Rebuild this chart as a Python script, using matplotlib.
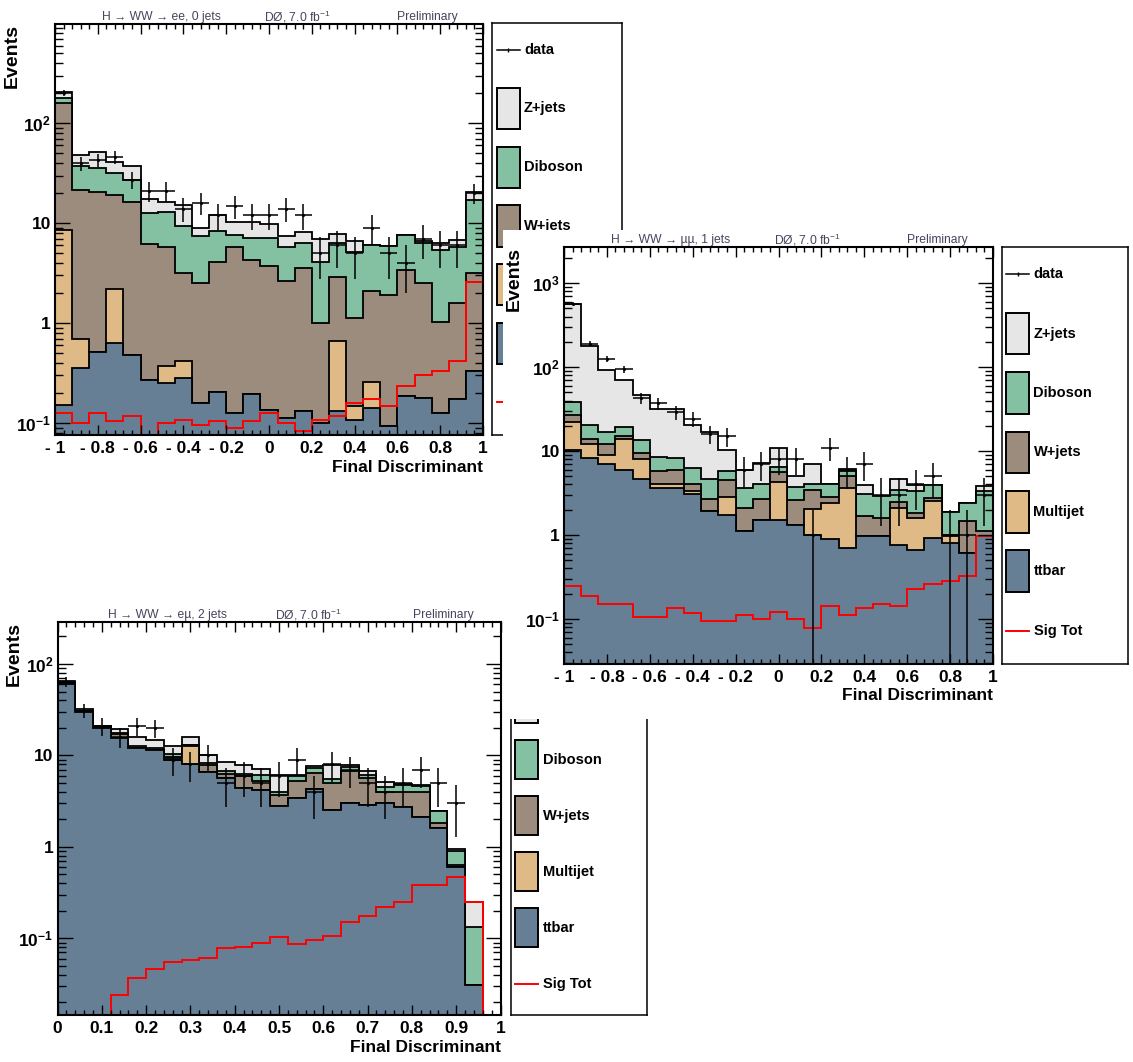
#!/usr/bin/env python3
"""
H -> WW final discriminant, three channels (ee 0j, mumu 1j, emu 2j), stacked backgrounds
"""
import numpy as np
import matplotlib
matplotlib.use("Agg")
import matplotlib.pyplot as plt
from matplotlib.patches import Rectangle
from matplotlib.ticker import FixedLocator, FixedFormatter, LogLocator, NullFormatter, MultipleLocator

plt.rcParams["font.family"] = ["Liberation Sans", "DejaVu Sans"]
plt.rcParams["font.weight"] = "bold"
plt.rcParams["mathtext.default"] = "regular"

FIG_W, FIG_H = 1133, 1062

# ─── colours ────────────────────────────────────────────
C_TTBAR    = "#667f95"
C_MULTIJET = "#dfba86"
C_WJETS    = "#9c8c7d"
C_DIBOSON  = "#83c1a2"
C_ZJETS    = "#e6e6e6"
C_SIG      = "#ff0000"
C_TITLE    = "#45455e"
STACK_COLOURS = [C_TTBAR, C_MULTIJET, C_WJETS, C_DIBOSON, C_ZJETS]   # bottom -> top

# ─── ee, 0 jets ─────────────────────────────────────────
ee_edges    = np.linspace(-1, 1, 26)
ee_ttbar    = [0.15, 0.355, 0.52, 0.63, 0.48, 0.27, 0.25, 0.28, 0.158, 0.207, 0.126, 0.195, 0.136,
               0.112, 0.133, 0.10, 0.131, 0.108, 0.141, 0.093, 0.188, 0.18, 0.126, 0.174, 0.33]
ee_multijet = [8.45, 0.335, 0, 1.56, 0, 0, 0.12, 0.14, 0, 0, 0, 0, 0,
               0, 0, 0, 0.525, 0.041, 0.119, 0, 0, 0, 0, 0, 0]
ee_wjets    = [152.4, 20.8, 19.9, 17.0, 15.7, 5.93, 5.43, 2.78, 2.34, 3.89, 5.67, 4.1, 3.56,
               2.54, 3.47, 0.9, 2.24, 0.99, 1.86, 1.81, 3.21, 2.32, 0.91, 1.41, 2.87]
ee_diboson  = [17.0, 15.9, 15.1, 12.4, 10.9, 6.4, 7.1, 6.1, 5.0, 4.2, 1.8, 2.8, 3.4,
               3.15, 2.7, 3.1, 3.4, 3.96, 3.98, 4.0, 4.2, 3.8, 4.36, 4.22, 13.7]
ee_zjets    = [26.0, 10.6, 16.5, 9.4, 9.9, 4.8, 3.3, 6.0, 1.4, 3.8, 2.6, 3.3, 2.7,
               1.6, 1.8, 2.8, 1.5, 1.6, 0, 0, 0, 0.3, 0.9, 1.0, 3.5]
ee_signal   = [0.126, 0.10, 0.126, 0.106, 0.117, 0.07, 0.10, 0.108, 0.096, 0.106, 0.089, 0.104, 0.126,
               0.10, 0.083, 0.108, 0.117, 0.158, 0.174, 0.149, 0.233, 0.304, 0.329, 0.414, 2.61]
ee_data     = [200, 40, 43, 46, 27, 21, 21, 14, 16, 12, 15, 12, 12,
               14, 12, 5, 6, 5, 9, 5, 4, 7, 6, 6, 20]

# ─── mumu, 1 jets ───────────────────────────────────────
mm_edges    = np.linspace(-1, 1, 26)
mm_ttbar    = [10.3, 8.3, 6.95, 5.9, 4.7, 3.6, 3.6, 3.1, 1.94, 1.74, 1.1, 1.49, 1.51,
               1.33, 1.0, 0.9, 0.70, 0.96, 0.96, 0.76, 0.67, 0.92, 0.8, 0.61, 0.96]
mm_multijet = [11.6, 3.7, 2.05, 8.0, 3.3, 0.5, 0.5, 0.2, 0, 1.12, 0, 0, 2.79,
               0, 1.05, 1.49, 2.9, 0, 0, 1.32, 0.94, 1.62, 0.16, 0, 0]
mm_wjets    = [4.9, 2.1, 3.0, 1.2, 1.6, 1.7, 1.85, 0.8, 0.73, 1.64, 0.98, 1.18, 1.3,
               1.3, 1.35, 0.48, 1.4, 0.7, 0.62, 0.42, 0.21, 0.22, 0.04, 0.84, 0.14]
mm_diboson  = [11.7, 6.3, 5.0, 4.4, 3.9, 2.8, 2.35, 2.1, 1.93, 1.3, 1.52, 1.33, 0.9,
               1.07, 0.7, 1.23, 0.8, 1.39, 1.34, 0.94, 1.53, 1.14, 0.9, 0.98, 2.25]
mm_zjets    = [530, 157, 76, 51.5, 33.5, 22.9, 23.2, 14.2, 12.1, 4.5, 2.3, 3.3, 4.3,
               1.3, 3.0, 0, 0.3, 0.9, 0, 1.16, 0.55, 0, 0, 0, 0.52]
mm_signal   = [0.249, 0.186, 0.151, 0.151, 0.105, 0.105, 0.133, 0.118, 0.094, 0.094, 0.111, 0.100, 0.12,
               0.100, 0.078, 0.141, 0.112, 0.133, 0.152, 0.141, 0.227, 0.26, 0.28, 0.321, 0.98]
mm_data     = [570, 190, 126, 94, 43, 37, 29, 24, 16, 15, 6, 7, 8,
               8, 1, 11, 6, 7, 3, 3, 4, 5, 1, 1, 3]

# ─── emu, 2 jets ────────────────────────────────────────
em_edges    = np.linspace(0, 1, 26)
em_ttbar    = [61, 29.8, 20, 15.5, 12.0, 11.5, 9.0, 8.0, 6.6, 5.65, 4.39, 4.2, 2.77,
               3.41, 4.27, 2.55, 3.0, 2.88, 3.0, 2.76, 2.14, 1.6, 0.6, 0.031, 0]
em_multijet = [0, 0, 0, 0, 0, 0, 0.3, 4.6, 0, 0, 0, 0, 0,
               0, 0, 0, 0, 0, 0, 0, 0, 0, 0, 0, 0]
em_wjets    = [0.5, 0.7, 0.8, 1.8, 0, 0, 0.2, 0.3, 1.2, 0.65, 1.5, 1.1, 0.94,
               1.78, 2.23, 2.45, 3.8, 2.77, 1.03, 1.27, 1.89, 0.22, 0.04, 0, 0]
em_diboson  = [0.5, 0.5, 0.2, 0.3, 0.8, 0.7, 0.9, 0, 0.44, 0.38, 0.41, 0.74, 0.32,
               0.79, 0.76, 0.55, 0.6, 0.49, 0.47, 0.67, 0.55, 0.62, 0.26, 0.103, 0]
em_zjets    = [3.0, 1.0, 0.1, 1.8, 3.1, 2.7, 2.2, 3.2, 1.76, 1.72, 1.6, 1.11, 2.11,
               0.16, 0.31, 2.35, 0.4, 0.65, 0.56, 0.2, 0.13, 0, 0.04, 0.118, 0]
em_signal   = [0, 0, 0, 0.024, 0.0365, 0.0458, 0.0556, 0.058, 0.0604, 0.0778, 0.0811, 0.0881, 0.104,
               0.0867, 0.096, 0.106, 0.152, 0.177, 0.222, 0.252, 0.384, 0.384, 0.473, 0.252, 0]
em_data     = [64, 31, 21, 16, 21, 20, 9, 8, 10, 5, 6, 5, 6,
               9, 4, 8, 7, 5, 4, 5, 7, 5, 3, 0, 0]

# axis labels
SYM_TICKS  = [-1, -0.8, -0.6, -0.4, -0.2, 0, 0.2, 0.4, 0.6, 0.8, 1]
SYM_LABELS = ["- 1", "- 0.8", "- 0.6", "- 0.4", "- 0.2", "0", "0.2", "0.4", "0.6", "0.8", "1"]
POS_TICKS  = [0, 0.1, 0.2, 0.3, 0.4, 0.5, 0.6, 0.7, 0.8, 0.9, 1]
POS_LABELS = ["0", "0.1", "0.2", "0.3", "0.4", "0.5", "0.6", "0.7", "0.8", "0.9", "1"]
LEGEND_ENTRIES = [("data", "data", "black"), ("Z+jets", "box", C_ZJETS), ("Diboson", "box", C_DIBOSON),
                  ("W+jets", "box", C_WJETS), ("Multijet", "box", C_MULTIJET), ("ttbar", "box", C_TTBAR),
                  ("Sig Tot", "line", C_SIG)]

fig = plt.figure(figsize=(FIG_W / 100, FIG_H / 100), dpi=100)


def px_rect(left, top, right, bottom):
    return [left / FIG_W, 1 - bottom / FIG_H, (right - left) / FIG_W, (bottom - top) / FIG_H]


def to_fig(x, y):
    return x / FIG_W, 1 - y / FIG_H


def draw_panel(box, edges, stack, signal, data, ylim, xticks, xlabels, xminor,
               yticks, ylabels, title, ylab_dx=43, z=1):
    left, top, right, bottom = box
    ax = fig.add_axes(px_rect(*box), zorder=z)
    ax.set_yscale("log")
    floor = ylim[0] * 1e-3

    # stacked backgrounds, drawn as cumulative histograms from the top down
    levels = np.cumsum(np.array(stack, dtype=float), axis=0)
    for level, colour in reversed(list(zip(levels, STACK_COLOURS))):
        ax.stairs(np.maximum(level, floor), edges, baseline=floor, fill=True,
                  facecolor=colour, edgecolor="black", linewidth=1.3)
    ax.stairs(np.maximum(np.array(signal, float), floor), edges, baseline=None,
              color=C_SIG, linewidth=1.4)

    # data points with sqrt(N) errors
    d = np.array(data, dtype=float)
    ok = d > 0
    centres = 0.5 * (edges[1:] + edges[:-1])
    err = np.sqrt(d)
    ax.vlines(centres[ok], np.maximum(d[ok] - err[ok], floor), d[ok] + err[ok], colors="black", lw=1.1)
    ax.hlines(d[ok], edges[:-1][ok], edges[1:][ok], colors="black", lw=1.1)
    ax.plot(centres[ok], d[ok], "k.", ms=2.5)

    ax.set_xlim(edges[0], edges[-1])
    ax.set_ylim(*ylim)
    ax.xaxis.set_major_locator(FixedLocator(xticks))
    ax.xaxis.set_major_formatter(FixedFormatter(xlabels))
    ax.xaxis.set_minor_locator(MultipleLocator(xminor))
    ax.yaxis.set_major_locator(FixedLocator(yticks))
    ax.yaxis.set_major_formatter(FixedFormatter(ylabels))
    ax.yaxis.set_minor_locator(LogLocator(base=10, subs=np.arange(2, 10), numticks=30))
    ax.yaxis.set_minor_formatter(NullFormatter())
    ax.tick_params(which="both", direction="in", top=True, right=True, width=1.0, labelsize=12.5)
    ax.tick_params(axis="x", which="major", length=7, pad=4)
    ax.tick_params(axis="x", which="minor", length=3.5)
    ax.tick_params(axis="y", which="major", length=11, pad=3)
    ax.tick_params(axis="y", which="minor", length=5.5)
    for sp in ax.spines.values():
        sp.set_linewidth(1.5)

    w = right - left
    for frac, s in zip((0.248, 0.567, 0.871), title):
        x, y = to_fig(left + frac * w, top - 7)
        ax.text(x, y, s, transform=fig.transFigure, ha="center", va="center",
                fontsize=8.7, fontweight="normal", color=C_TITLE)
    x, y = to_fig(right, bottom + 32)
    ax.text(x, y, "Final Discriminant", transform=fig.transFigure, ha="right", va="center", fontsize=12.5)
    x, y = to_fig(left - ylab_dx, top)
    ax.text(x, y, "Events", transform=fig.transFigure, rotation=90, ha="center", va="top", fontsize=14)
    return ax


def draw_legend(box, z=1, n_labels=None):
    """ROOT-style legend box; n_labels limits how many entry names get written."""
    left, top, right, bottom = box
    lax = fig.add_axes(px_rect(*box), zorder=z)
    w, h = right - left, bottom - top
    lax.set_xlim(0, w)
    lax.set_ylim(h, 0)
    lax.set_xticks([])
    lax.set_yticks([])
    for sp in lax.spines.values():
        sp.set_linewidth(1.1)
    for i, (label, kind, colour) in enumerate(LEGEND_ENTRIES):
        yc = 0.065 * h + i * 0.1425 * h
        if kind == "box":
            lax.add_patch(Rectangle((4.5, yc - 0.05 * h), 23, 0.1 * h, facecolor=colour,
                                    edgecolor="black", lw=1.4))
        elif kind == "data":
            lax.plot([4.5, 27.5], [yc, yc], color="black", lw=1.1)
            lax.plot([16], [yc], marker="|", color="black", ms=3)
        else:
            lax.plot([4.5, 27.5], [yc, yc], color=colour, lw=1.4)
        if n_labels is None or i < n_labels:
            lax.text(32, yc, label, ha="left", va="center", fontsize=10.5)
    return lax


# ee, 0 jets (top left); its lower legend names sit under the mumu card
draw_panel((55, 24, 483, 435), ee_edges,
           [ee_ttbar, ee_multijet, ee_wjets, ee_diboson, ee_zjets], ee_signal, ee_data,
           (0.076, 985), SYM_TICKS, SYM_LABELS, 0.04,
           [0.1, 1, 10, 100], ["10$^{-1}$", "1", "10", "10$^{2}$"],
           ("H → WW → ee, 0 jets", "DØ, 7.0 fb$^{-1}$", "Preliminary"))
draw_legend((492, 23, 622, 435), n_labels=4)

# emu, 2 jets (bottom left)
draw_panel((57.5, 622, 500.5, 1015), em_edges,
           [em_ttbar, em_multijet, em_wjets, em_diboson, em_zjets], em_signal, em_data,
           (0.0145, 288), POS_TICKS, POS_LABELS, 0.02,
           [0.1, 1, 10, 100], ["10$^{-1}$", "1", "10", "10$^{2}$"],
           ("H → WW → eµ, 2 jets", "DØ, 7.0 fb$^{-1}$", "Preliminary"))
draw_legend((510.7, 622, 646.7, 1015))

# mumu, 1 jets sits on its own white card over the other two
cover = fig.add_axes(px_rect(503, 230, FIG_W, 719), zorder=5)
cover.set_xticks([])
cover.set_yticks([])
for sp in cover.spines.values():
    sp.set_visible(False)

draw_panel((564, 247, 993, 664), mm_edges,
           [mm_ttbar, mm_multijet, mm_wjets, mm_diboson, mm_zjets], mm_signal, mm_data,
           (0.029, 2700), SYM_TICKS, SYM_LABELS, 0.04,
           [0.1, 1, 10, 100, 1000], ["10$^{-1}$", "1", "10", "10$^{2}$", "10$^{3}$"],
           ("H → WW → µµ, 1 jets", "DØ, 7.0 fb$^{-1}$", "Preliminary"), ylab_dx=50, z=6)
draw_legend((1001.5, 247, 1128, 664), z=6)

fig.savefig("out.png", dpi=100)
